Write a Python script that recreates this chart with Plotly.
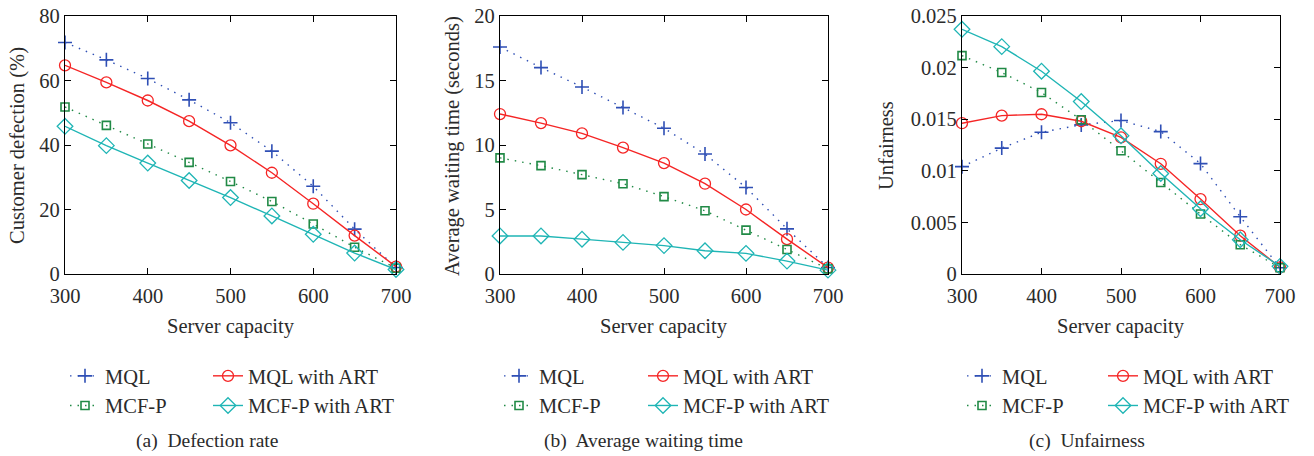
import plotly.graph_objects as go

W, H = 1314, 456
capacity = [300, 350, 400, 450, 500, 550, 600, 650, 700]

# (a) Customer defection (%)
def_mql = [71.8, 66.4, 60.6, 54.0, 46.9, 38.1, 27.2, 13.9, 2.0]
def_mql_art = [64.7, 59.4, 53.8, 47.4, 39.9, 31.4, 21.8, 11.9, 2.3]
def_mcfp = [51.8, 46.1, 40.3, 34.6, 28.7, 22.5, 15.5, 8.3, 1.8]
def_mcfp_art = [45.8, 39.8, 34.4, 29.0, 23.7, 18.0, 12.3, 6.5, 1.4]

# (b) Average waiting time (seconds)
wait_mql = [17.6, 16.0, 14.5, 12.9, 11.3, 9.3, 6.7, 3.5, 0.5]
wait_mql_art = [12.4, 11.7, 10.9, 9.8, 8.6, 7.0, 5.0, 2.7, 0.5]
wait_mcfp = [9.0, 8.4, 7.7, 7.0, 6.0, 4.9, 3.4, 1.9, 0.4]
wait_mcfp_art = [2.95, 2.95, 2.7, 2.45, 2.2, 1.8, 1.6, 1.0, 0.3]

# (c) Unfairness
unf_mql = [0.0104, 0.0122, 0.01374, 0.01445, 0.01487, 0.0138, 0.0107, 0.00555, 0.0006]
unf_mql_art = [0.01461, 0.01535, 0.01548, 0.0148, 0.01323, 0.01068, 0.00726, 0.00371, 0.00065]
unf_mcfp = [0.02116, 0.01952, 0.01758, 0.01494, 0.01194, 0.00887, 0.00581, 0.00284, 0.0006]
unf_mcfp_art = [0.02371, 0.02203, 0.01965, 0.01671, 0.01339, 0.00974, 0.00632, 0.00332, 0.00074]

series_names = ["MQL", "MQL with ART", "MCF-P", "MCF-P with ART"]
panel_data = [
    [def_mql, def_mql_art, def_mcfp, def_mcfp_art],
    [wait_mql, wait_mql_art, wait_mcfp, wait_mcfp_art],
    [unf_mql, unf_mql_art, unf_mcfp, unf_mcfp_art],
]
y_titles = ["Customer defection (%)", "Average waiting time (seconds)", "Unfairness"]
x_title = "Server capacity"
captions = ["(a)  Defection rate", "(b)  Average waiting time", "(c)  Unfairness"]
y_ranges = [[0, 80], [0, 20], [0, 0.025]]
y_tickvals = [[0, 20, 40, 60, 80], [0, 5, 10, 15, 20],
              [0, 0.005, 0.01, 0.015, 0.02, 0.025]]
y_ticktext = [["0", "20", "40", "60", "80"], ["0", "5", "10", "15", "20"],
              ["0", "0.005", "0.01", "0.015", "0.02", "0.025"]]
x_tickvals = [300, 400, 500, 600, 700]

FONT = "Liberation Serif"
TXT = "#2b2b2b"
styles = [
    dict(color="#2f4fb5", dash="1.5px,6px", symbol="cross-thin", size=10, mlw=1.6),
    dict(color="#f52525", dash="solid", symbol="circle-open", size=11, mlw=1.3),
    dict(color="#218a46", dash="1.5px,6px", symbol="square-open", size=8, mlw=1.6),
    dict(color="#1fb5b5", dash="solid", symbol="diamond-open", size=12, mlw=1.3),
]

# pixel layout of plot areas
px_x = [(65, 396), (500, 828), (962, 1280)]
px_top, px_bot = 16, 274
legend_text_x = [(109, 252), (543, 687), (1006, 1147)]
y_title_x = [17, 452, 886]
caption_x = [207, 643, 1087]

fig = go.Figure()
layout = dict(
    width=W, height=H, margin=dict(l=0, r=0, t=0, b=0),
    paper_bgcolor="white", plot_bgcolor="white",
    font=dict(family=FONT, size=20, color=TXT),
    annotations=[],
)

for p in range(3):
    xa = "x" if p == 0 else f"x{p+1}"
    ya = "y" if p == 0 else f"y{p+1}"
    for s in range(4):
        st = styles[s]
        leg_idx = 2 * p + (1 if s in (0, 2) else 2)
        leg = "legend" if leg_idx == 1 else f"legend{leg_idx}"
        fig.add_trace(go.Scatter(
            x=capacity, y=panel_data[p][s], name=series_names[s],
            mode="lines+markers", xaxis=xa, yaxis=ya, legend=leg,
            line=dict(color=st["color"], width=1.4, dash=st["dash"]),
            marker=dict(symbol=st["symbol"], size=st["size"], color=st["color"],
                        line=dict(color=st["color"], width=st["mlw"])),
            cliponaxis=False,
        ))
    x0, x1 = px_x[p]
    axis_common = dict(showline=True, linecolor="black", linewidth=1.2, mirror="ticks",
                       ticks="inside", ticklen=6, tickcolor="black", showgrid=False,
                       zeroline=False, automargin=False,
                       tickfont=dict(family=FONT, size=20.5, color=TXT))
    layout["xaxis" if p == 0 else f"xaxis{p+1}"] = dict(
        domain=[x0 / W, x1 / W], anchor=ya, range=[300, 700], ticklabelstandoff=3,
        tickvals=x_tickvals, ticktext=[str(v) for v in x_tickvals], **axis_common)
    layout["yaxis" if p == 0 else f"yaxis{p+1}"] = dict(
        domain=[1 - px_bot / H, 1 - px_top / H], anchor=xa, range=y_ranges[p],
        tickvals=y_tickvals[p], ticktext=y_ticktext[p], **axis_common)

    # legends
    for c in range(2):
        leg_idx = 2 * p + c + 1
        key = "legend" if leg_idx == 1 else f"legend{leg_idx}"
        layout[key] = dict(
            x=(legend_text_x[p][c] - 44) / W, y=1 - 356 / H, xanchor="left", yanchor="top",
            orientation="v", bgcolor="rgba(0,0,0,0)", tracegroupgap=0,
            font=dict(family=FONT, size=20.5, color=TXT), itemwidth=30,
        )

    layout["annotations"] += [
        dict(text=x_title, x=(x0 + x1) / 2 / W, y=1 - 326 / H, xref="paper", yref="paper",
             showarrow=False, xanchor="center", yanchor="middle",
             font=dict(family=FONT, size=20.5, color=TXT)),
        dict(text=y_titles[p], x=y_title_x[p] / W, y=1 - 146 / H, xref="paper", yref="paper",
             showarrow=False, xanchor="center", yanchor="middle", textangle=-90,
             font=dict(family=FONT, size=20.5, color=TXT)),
        dict(text=captions[p].replace("  ", "&nbsp; "), x=caption_x[p] / W, y=1 - 441 / H,
             xref="paper", yref="paper", showarrow=False, xanchor="center",
             yanchor="middle", font=dict(family=FONT, size=19.5, color=TXT)),
    ]

fig.update_layout(**layout)
fig.write_html("out.html")
